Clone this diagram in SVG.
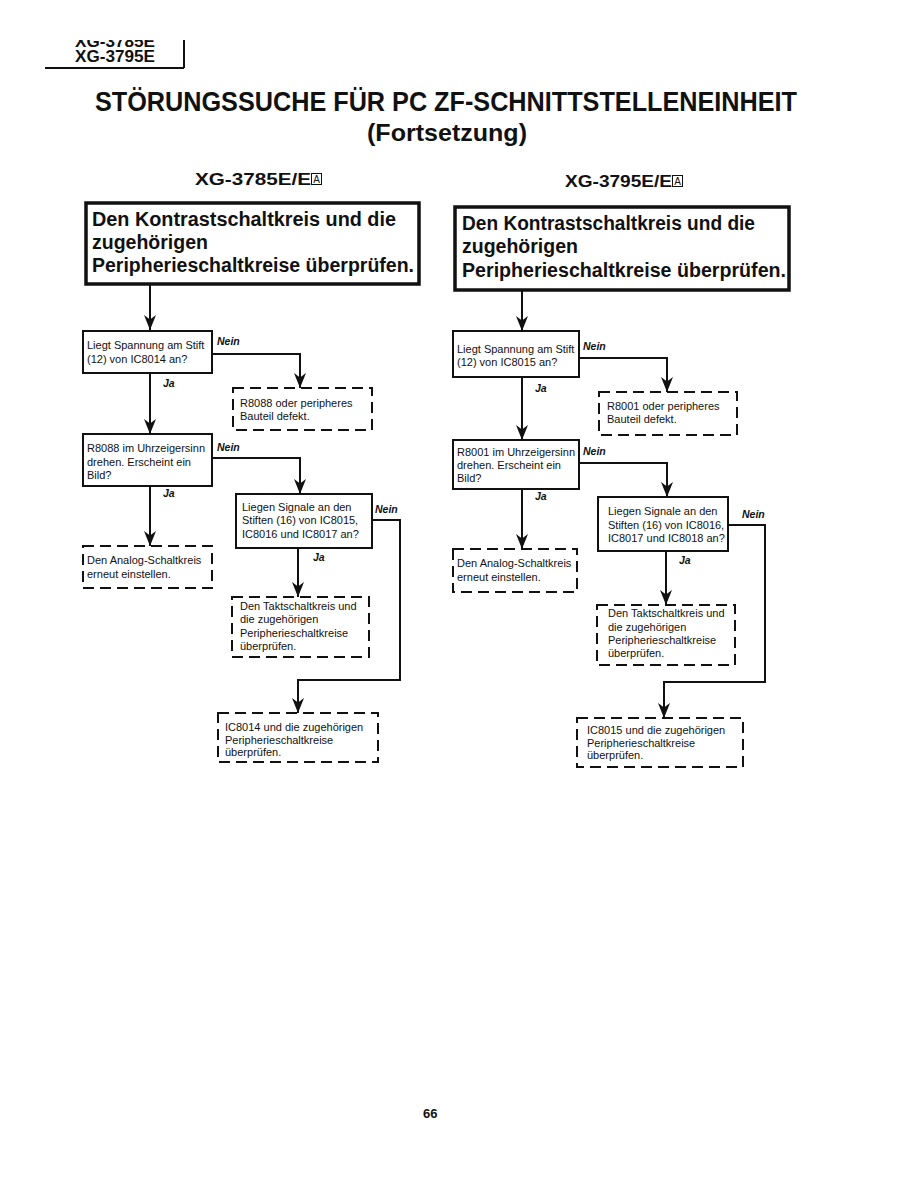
<svg xmlns="http://www.w3.org/2000/svg" width="918" height="1188" viewBox="0 0 918 1188">
<style>
text{font-family:"Liberation Sans",Arial,sans-serif;fill:#111}
.s{font-size:11px}
.b{font-weight:bold}
.lbl{font-size:10.5px;font-weight:bold;font-style:italic}
.big{font-size:19.5px;font-weight:bold}
.solid{fill:#fff;stroke:#111;stroke-width:2}
.thick{fill:#fff;stroke:#111;stroke-width:3.5}
.dash{fill:none;stroke:#111;stroke-width:2;stroke-dasharray:11 6}
.ln{fill:none;stroke:#111;stroke-width:2}
.arr{fill:none;stroke:#111;stroke-width:2;marker-end:url(#ah)}
</style>
<defs>
<marker id="ah" markerUnits="userSpaceOnUse" markerWidth="15" markerHeight="12" viewBox="0 0 15 12" refX="15" refY="6" orient="auto">
<path d="M0,0 L4.5,6 L0,12 L15,6 Z" fill="#111"/>
</marker>
<clipPath id="topclip"><rect x="60" y="40" width="120" height="30"/></clipPath>
</defs>
<rect width="918" height="1188" fill="#fff"/>

<g id="header">
<text x="75" y="47" class="b" font-size="16" textLength="80" lengthAdjust="spacingAndGlyphs" clip-path="url(#topclip)">XG-3785E</text>
<text x="75" y="62" class="b" font-size="16" textLength="80" lengthAdjust="spacingAndGlyphs">XG-3795E</text>
<path d="M184 40 V68 M45 68 H184" class="ln" stroke-width="1.5"/>
</g>

<g id="title">
<text x="95" y="111" class="b" font-size="27" textLength="702" lengthAdjust="spacingAndGlyphs">STÖRUNGSSUCHE FÜR PC ZF-SCHNITTSTELLENEINHEIT</text>
<text x="367" y="141" class="b" font-size="24" textLength="160" lengthAdjust="spacingAndGlyphs">(Fortsetzung)</text>
</g>

<g id="colhead-left">
<text x="195" y="185" class="b" font-size="17" textLength="116" lengthAdjust="spacingAndGlyphs">XG-3785E/E</text>
<rect x="311.5" y="173.5" width="10" height="11" fill="none" stroke="#111" stroke-width="1"/>
<text x="316.5" y="183" font-size="10" text-anchor="middle">A</text>
</g>
<g id="colhead-right">
<text x="565" y="187" class="b" font-size="17" textLength="107" lengthAdjust="spacingAndGlyphs">XG-3795E/E</text>
<rect x="672.5" y="175.5" width="10" height="11" fill="none" stroke="#111" stroke-width="1"/>
<text x="677.5" y="185" font-size="10" text-anchor="middle">A</text>
</g>

<g id="connectors">
<!-- left column -->
<path d="M150 285 V330" class="arr"/>
<path d="M212 354 H300 V388" class="arr"/>
<path d="M150 373 V434" class="arr"/>
<path d="M212 458 H300 V494" class="arr"/>
<path d="M150 486 V546" class="arr"/>
<path d="M298 548 V597" class="arr"/>
<path d="M372 520 H400 V680 H298 V713" class="arr"/>
<!-- right column -->
<path d="M522 290 V331" class="arr"/>
<path d="M579 358 H667 V392" class="arr"/>
<path d="M522 377 V440" class="arr"/>
<path d="M579 463 H667 V497" class="arr"/>
<path d="M522 489 V549" class="arr"/>
<path d="M666 551 V605" class="arr"/>
<path d="M728 525 H765 V682 H664 V718" class="arr"/>
<text x="163" y="387" class="lbl">Ja</text>
<text x="217" y="345" class="lbl">Nein</text>
<text x="163" y="497" class="lbl">Ja</text>
<text x="217" y="451" class="lbl">Nein</text>
<text x="313" y="561" class="lbl">Ja</text>
<text x="375" y="513" class="lbl">Nein</text>
<text x="535" y="392" class="lbl">Ja</text>
<text x="583" y="350" class="lbl">Nein</text>
<text x="535" y="500" class="lbl">Ja</text>
<text x="583" y="455" class="lbl">Nein</text>
<text x="679" y="564" class="lbl">Ja</text>
<text x="742" y="518" class="lbl">Nein</text>
</g>

<!-- LEFT COLUMN NODES -->
<g id="L-start">
<rect x="86" y="203" width="333" height="81" class="thick"/>
<text x="92" y="226" class="big" textLength="304" lengthAdjust="spacingAndGlyphs">Den Kontrastschaltkreis und die</text>
<text x="92" y="249" class="big">zugehörigen</text>
<text x="92" y="272" class="big" textLength="322" lengthAdjust="spacingAndGlyphs">Peripherieschaltkreise überprüfen.</text>
</g>
<g id="L-q1">
<rect x="83" y="331" width="129" height="42" class="solid"/>
<text x="87" y="349" class="s">Liegt Spannung am Stift</text>
<text x="87" y="363" class="s">(12) von IC8014 an?</text>
</g>
<g id="L-r1">
<rect x="233" y="388" width="139" height="42" class="dash"/>
<text x="240" y="407" class="s">R8088 oder peripheres</text>
<text x="240" y="420" class="s">Bauteil defekt.</text>
</g>
<g id="L-q2">
<rect x="83" y="434" width="129" height="52" class="solid"/>
<text x="87" y="452" class="s">R8088 im Uhrzeigersinn</text>
<text x="87" y="466" class="s">drehen. Erscheint ein</text>
<text x="87" y="479" class="s">Bild?</text>
</g>
<g id="L-r2">
<rect x="83" y="546" width="129" height="42" class="dash"/>
<text x="87" y="564" class="s">Den Analog-Schaltkreis</text>
<text x="87" y="578" class="s">erneut einstellen.</text>
</g>
<g id="L-q3">
<rect x="236" y="494" width="136" height="54" class="solid"/>
<text x="242" y="511" class="s">Liegen Signale an den</text>
<text x="242" y="524" class="s">Stiften (16) von IC8015,</text>
<text x="242" y="538" class="s">IC8016 und IC8017 an?</text>
</g>
<g id="L-r3">
<rect x="232" y="597" width="137" height="60" class="dash"/>
<text x="240" y="610" class="s">Den Taktschaltkreis und</text>
<text x="240" y="623" class="s">die zugehörigen</text>
<text x="240" y="637" class="s">Peripherieschaltkreise</text>
<text x="240" y="650" class="s">überprüfen.</text>
</g>
<g id="L-r4">
<rect x="218" y="713" width="160" height="49" class="dash"/>
<text x="225" y="731" class="s">IC8014 und die zugehörigen</text>
<text x="225" y="744" class="s">Peripherieschaltkreise</text>
<text x="225" y="756" class="s">überprüfen.</text>
</g>

<!-- RIGHT COLUMN NODES -->
<g id="R-start">
<rect x="455" y="207" width="334" height="83" class="thick"/>
<text x="462" y="230" class="big" textLength="293" lengthAdjust="spacingAndGlyphs">Den Kontrastschaltkreis und die</text>
<text x="462" y="253" class="big">zugehörigen</text>
<text x="462" y="277" class="big" textLength="324" lengthAdjust="spacingAndGlyphs">Peripherieschaltkreise überprüfen.</text>
</g>
<g id="R-q1">
<rect x="453" y="331" width="126" height="46" class="solid"/>
<text x="457" y="353" class="s">Liegt Spannung am Stift</text>
<text x="457" y="366" class="s">(12) von IC8015 an?</text>
</g>
<g id="R-r1">
<rect x="599" y="392" width="138" height="43" class="dash"/>
<text x="607" y="410" class="s">R8001 oder peripheres</text>
<text x="607" y="423" class="s">Bauteil defekt.</text>
</g>
<g id="R-q2">
<rect x="453" y="440" width="126" height="49" class="solid"/>
<text x="457" y="456" class="s">R8001 im Uhrzeigersinn</text>
<text x="457" y="469" class="s">drehen. Erscheint ein</text>
<text x="457" y="482" class="s">Bild?</text>
</g>
<g id="R-r2">
<rect x="453" y="549" width="124" height="43" class="dash"/>
<text x="457" y="567" class="s">Den Analog-Schaltkreis</text>
<text x="457" y="581" class="s">erneut einstellen.</text>
</g>
<g id="R-q3">
<rect x="598" y="497" width="130" height="54" class="solid"/>
<text x="608" y="515" class="s">Liegen Signale an den</text>
<text x="608" y="529" class="s">Stiften (16) von IC8016,</text>
<text x="608" y="542" class="s">IC8017 und IC8018 an?</text>
</g>
<g id="R-r3">
<rect x="597" y="605" width="138" height="60" class="dash"/>
<text x="608" y="617" class="s">Den Taktschaltkreis und</text>
<text x="608" y="631" class="s">die zugehörigen</text>
<text x="608" y="644" class="s">Peripherieschaltkreise</text>
<text x="608" y="657" class="s">überprüfen.</text>
</g>
<g id="R-r4">
<rect x="577" y="718" width="166" height="49" class="dash"/>
<text x="587" y="734" class="s">IC8015 und die zugehörigen</text>
<text x="587" y="747" class="s">Peripherieschaltkreise</text>
<text x="587" y="759" class="s">überprüfen.</text>
</g>

<g id="footer">
<text x="423" y="1118" class="b" font-size="13">66</text>
</g>
</svg>
